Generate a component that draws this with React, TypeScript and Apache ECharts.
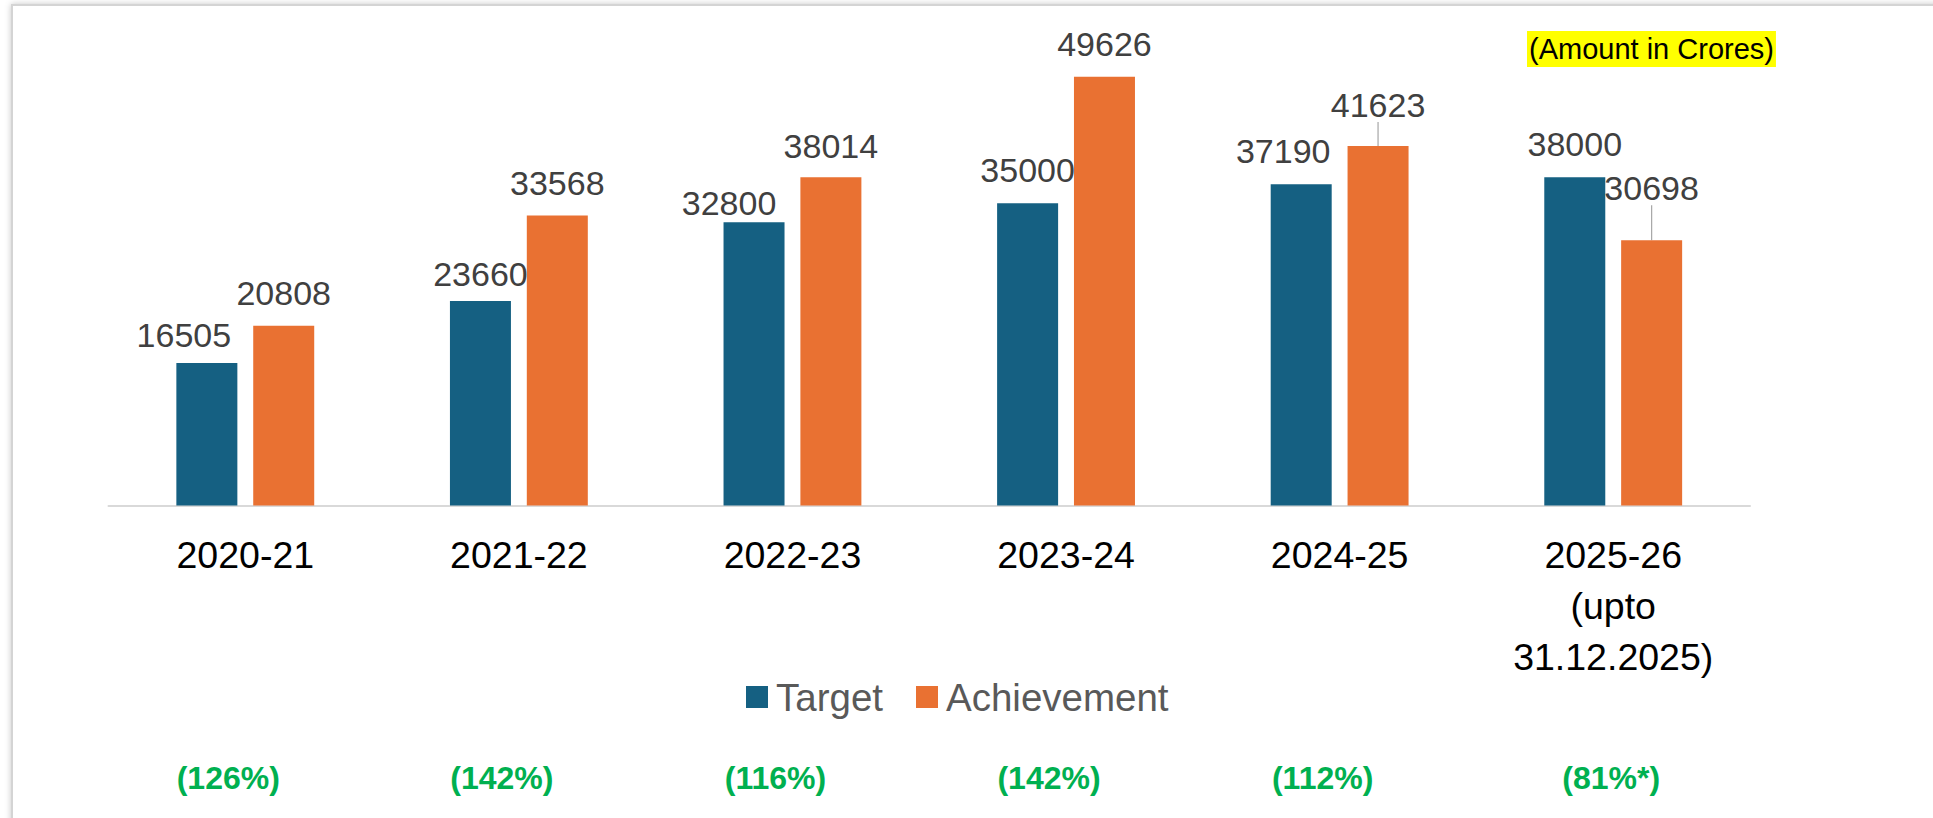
import React, { useEffect, useRef } from "react";
import * as echarts from "echarts";

const categories = ["2020-21", "2021-22", "2022-23", "2023-24", "2024-25", "2025-26\n(upto\n31.12.2025)"];
const target = [16505, 23660, 32800, 35000, 37190, 38000];
const achievement = [20808, 33568, 38014, 49626, 41623, 30698];
const achievementPct = ["(126%)", "(142%)", "(116%)", "(142%)", "(112%)", "(81%*)"];
const seriesNames = ["Target", "Achievement"];
const unitNote = "(Amount in Crores)";

// label nudges (dx, dy) as placed in the original
const targetLabelShift = [[-23, 5], [0, 6], [-25, 14], [0, 0], [-18, 0], [0, 0]];
const achievementLabelShift = [[0, 0], [0, 0], [0, 2], [0, 0], [0, -8], [0, -19]];
const achievementLeader = [false, false, false, false, true, true];

const FONT = "'Liberation Sans', Arial, sans-serif";

export default function App() {
  const ref = useRef<HTMLDivElement>(null);
  useEffect(() => {
    const chart = echarts.init(ref.current!, null, { renderer: "svg" });
    const valueLabel = {
      show: true,
      position: "top",
      distance: 16,
      fontSize: 34,
      color: "#404040",
      fontFamily: FONT,
    };
    chart.setOption({
      animation: false,
      backgroundColor: "#ffffff",
      title: {
        text: unitNote,
        left: 1527,
        top: 31,
        backgroundColor: "#ffff00",
        padding: [3, 2, 3, 2],
        textStyle: { fontSize: 29, lineHeight: 30, color: "#000", fontWeight: "normal", fontFamily: FONT },
      },
      graphic: [
        {
          type: "rect",
          z: -10,
          silent: true,
          shape: { x: 12, y: 5, width: 1960, height: 860 },
          style: {
            fill: "#ffffff",
            stroke: "#d4d4d4",
            lineWidth: 2,
            shadowBlur: 6,
            shadowColor: "rgba(0,0,0,0.22)",
          },
        },
      ],
      legend: {
        data: seriesNames,
        left: 741,
        top: 672,
        icon: "rect",
        itemWidth: 22,
        itemHeight: 22,
        itemGap: 33,
        textStyle: { fontSize: 38.5, color: "#595959", fontFamily: FONT, padding: [0, 0, 0, 3], lineHeight: 40 },
      },
      grid: { left: 108.5, right: 183, top: 73.6, bottom: 312.5, containLabel: false },
      xAxis: [
        {
          type: "category",
          data: categories,
          axisLine: { show: true, lineStyle: { color: "#d9d9d9", width: 2 } },
          axisTick: { show: false },
          axisLabel: {
            interval: 0,
            margin: 24,
            fontSize: 37.5,
            lineHeight: 51,
            color: "#000000",
            fontFamily: FONT,
          },
        },
        {
          type: "category",
          position: "bottom",
          data: achievementPct,
          axisLine: { show: false },
          axisTick: { show: false },
          axisLabel: {
            interval: 0,
            margin: 252,
            formatter: (v: string, i: number) => (i < 5 ? `{s|${v}}` : `{n|${v}}`),
            rich: {
              s: {
                fontSize: 32,
                fontWeight: "bold",
                color: "#00B050",
                fontFamily: FONT,
                lineHeight: 40,
                padding: [0, 34, 0, 0],
              },
              n: {
                fontSize: 32,
                fontWeight: "bold",
                color: "#00B050",
                fontFamily: FONT,
                lineHeight: 40,
                padding: [0, 4, 0, 0],
              },
            },
          },
        },
      ],
      yAxis: { type: "value", min: 0, max: 50000, show: false, splitLine: { show: false } },
      series: [
        {
          name: seriesNames[0],
          type: "bar",
          data: target,
          barWidth: 61,
          barGap: "26%",
          itemStyle: { color: "#156082" },
          label: valueLabel,
          labelLayout: (p: any) => ({ dx: targetLabelShift[p.dataIndex][0], dy: targetLabelShift[p.dataIndex][1] }),
        },
        {
          name: seriesNames[1],
          type: "bar",
          data: achievement.map((v, i) => ({
            value: v,
            labelLine: { show: achievementLeader[i] },
          })),
          barWidth: 61,
          itemStyle: { color: "#E97132" },
          label: valueLabel,
          labelLine: { show: false, lineStyle: { color: "#a6a6a6", width: 1.2 } },
          labelLayout: (p: any) => ({
            dx: achievementLabelShift[p.dataIndex][0],
            dy: achievementLabelShift[p.dataIndex][1],
          }),
        },
      ],
    });
    return () => chart.dispose();
  }, []);
  return (
    <div
      ref={ref}
      style={{ position: "fixed", left: 0, top: 0, width: 1933, height: 818, background: "#fff" }}
    />
  );
}
